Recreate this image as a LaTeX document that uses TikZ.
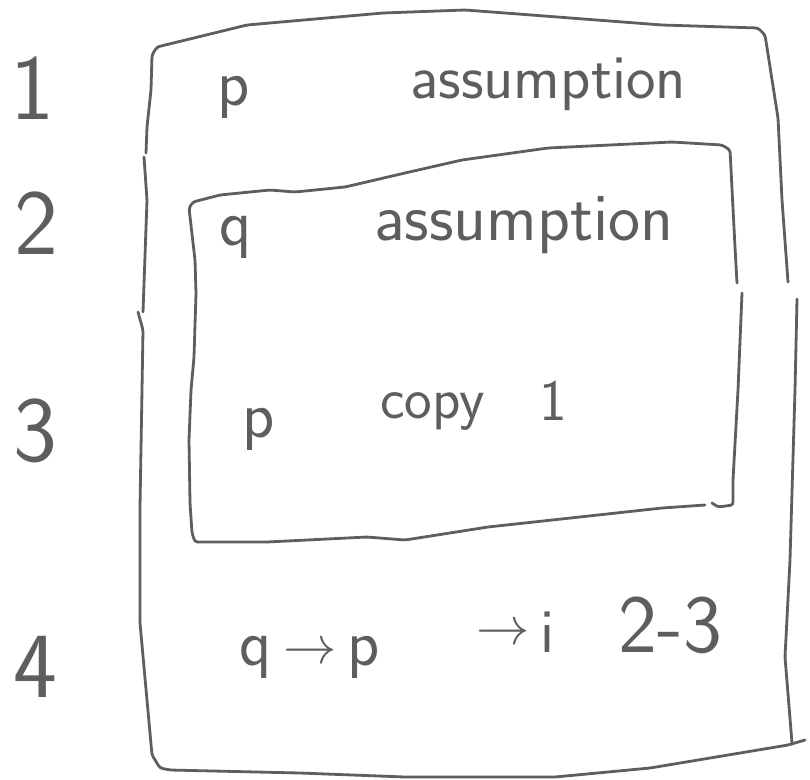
\documentclass[tikz,border=0pt]{standalone}
\usepackage{fontspec}
\usepackage{graphicx}
\begin{document}
\begin{tikzpicture}[x=0.75pt,y=-0.75pt,
  ink/.style={draw=pen,line width=2.1pt,line cap=round,line join=round,rounded corners=2pt},
  txt/.style={text=pen,inner sep=0pt,font=\sffamily\fontsize{47}{47}\selectfont},
  num/.style={text=pen,inner sep=0pt,font=\sffamily\fontsize{70}{70}\selectfont},
  let/.style={text=pen,inner sep=0pt,font=\sffamily\fontsize{50}{50}\selectfont}]
\definecolor{pen}{HTML}{5E5E5E}
\newcommand{\harrow}[1]{\raisebox{#1}{\resizebox{40pt}{!}{$\rightarrow$}}}
\useasboundingbox (0,0) rectangle (810,779);
% outer box
\draw[ink] (146,153) -- (147,127) -- (151,90) -- (152,55) -- (157,47) -- (247,25) -- (383,13) -- (465,10) -- (505,13) -- (662,25) -- (758,28) -- (765,35) -- (778,118) -- (782,200) -- (788,282);
\draw[ink] (144,157) -- (147,200) -- (143,312);
\draw[ink] (138,312) -- (143,330) -- (142,390) -- (140,507) -- (140,623) -- (147,700) -- (152,755) -- (160,768) -- (170,770) -- (300,773) -- (405,777) -- (555,777) -- (650,768) -- (788,745) -- (805,740);
\draw[ink] (797,299) -- (795,390) -- (790,560) -- (785,657) -- (792,743);
% inner box
\draw[ink] (737,283) -- (735,247) -- (730,150) -- (722,145) -- (672,142) -- (548,148) -- (462,160) -- (405,173) -- (345,187) -- (295,192) -- (270,190) -- (220,195) -- (193,202) -- (189,208) -- (195,260) -- (196,293) -- (194,357) -- (191,390) -- (189,440) -- (190,503) -- (192,533) -- (195,542) -- (267,542) -- (367,537) -- (405,540) -- (488,527) -- (598,515) -- (662,508) -- (705,505);
\draw[ink] (742,293) -- (738,390) -- (733,480) -- (733,505) -- (718,507) -- (712,503);
% line numbers
\node[num] (n1) at (32,88) {1};
\node[num] (n2) at (36,223) {2};
\node[num] (n3) at (35,431) {3};
\node[num] (n4) at (35,667) {4};
% line 1
\node[let,anchor=base] (p1) at (234,105) {p};
\node[txt,anchor=base west] (a1) at (410,98) {assumption};
% line 2
\node[let,anchor=base] (q2) at (236,245) {q};
\node[txt,anchor=base west,font=\sffamily\fontsize{51}{51}\selectfont] (a2) at (374,240) {assumption};
% line 3
\node[let,anchor=base] (p3) at (259,437) {p};
\node[txt,anchor=base west,font=\sffamily\fontsize{44}{44}\selectfont] (c3) at (380,418) {copy};
\node[txt,anchor=base,font=\sffamily\fontsize{44}{44}\selectfont] (r3) at (553,420) {1};
% line 4
\node[let,anchor=base] (f4) at (310,665) {q\,\harrow{1pt}\,p};
\node[txt,anchor=base west] (i4) at (476,652) {\harrow{6pt}\,i};
\node[txt,anchor=base west,font=\sffamily\fontsize{62}{62}\selectfont] (d4) at (618,652) {2-3};
\end{tikzpicture}
\end{document}
